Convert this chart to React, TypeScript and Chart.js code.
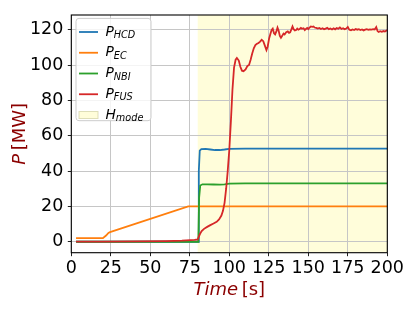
import React, { useEffect, useRef } from "react";
import { Chart, registerables } from "chart.js";

Chart.register(...registerables);

// ---- data ----
const xTicks = [0, 25, 50, 75, 100, 125, 150, 175, 200];
const yTicks = [0, 20, 40, 60, 80, 100, 120];
const xRange = [0, 200];
const yRange = [-6.2, 128.3];
const hmodeStart = 80;
const hmodeEnd = 200;

const hcdTime = [3, 80.2, 80.7, 81.3, 82.3, 85, 88, 91, 94, 97, 100, 110, 200];
const hcdPower = [0, 0, 40, 51.5, 52.4, 52.5, 52.2, 51.9, 51.9, 52.2, 52.6, 52.7, 52.7];

const ecTime = [3, 20, 22, 23.5, 24.5, 74, 200];
const ecPower = [2, 2, 3.5, 5, 5.4, 20, 20];

const nbiTime = [3, 80.4, 80.9, 81.6, 83, 86, 90, 94, 97, 100, 110, 200];
const nbiPower = [0, 0, 25, 31.8, 32.5, 32.5, 32.4, 32.3, 32.5, 32.9, 33, 33];

const fusTime = [
  3, 20, 40, 60, 70, 78, 80, 80.5, 81.5, 82.5, 84, 86, 88, 90, 92, 93.5, 95, 96, 97, 98, 99, 100,
  101, 102, 103, 104, 104.8, 106, 107, 108, 109, 110.3, 111.5, 112.5, 113.5, 114.5, 115.5, 116.5,
  117.5, 118.5, 119.5, 120.5, 121.5, 122.5, 123.5, 124.3, 125.2, 126, 126.8, 127.5, 128.3, 129,
  129.8, 130.5, 131.2, 132, 132.7, 133.5, 134.3, 135, 136, 137, 137.8, 138.5, 139.3, 140, 140.7,
  141.5, 142.3, 143, 143.7, 144.5, 145.3, 146, 147, 147.8, 148.5, 149.3, 150, 150.8, 151.6, 152.5,
  153.3, 154, 155, 156, 157, 158, 159, 160, 161, 162, 163, 164, 165, 166, 167, 168, 169, 170, 171,
  172, 173, 174, 175, 176, 177, 178, 179, 180, 181, 182, 183, 184, 185, 186, 187, 188, 189, 190,
  191, 192, 193, 193.8, 194.5, 195.5, 196.5, 197.5, 198.5, 199.5, 200,
];
const fusPower = [
  0.1, 0.1, 0.2, 0.4, 0.6, 1.0, 1.3, 2.5, 4.5, 6.0, 7.3, 8.4, 9.4, 10.3, 11.3, 12.6, 14.8, 17.5, 22,
  30, 40, 52, 68, 86, 98.5, 103, 104, 102.5, 99, 96.8, 96.5, 97.5, 99.5, 100, 103, 106.5, 109.5,
  111.3, 112, 112.5, 113.2, 114.3, 113.5, 111, 108.5, 110.5, 115, 117.5, 119.8, 120.6, 118, 117.3,
  119, 121.2, 119.5, 116.5, 115.4, 116.5, 117.8, 117.3, 118.6, 119, 118.2, 118.5, 120.2, 121.8,
  120.3, 119.6, 119.8, 120.6, 120, 120.4, 121, 120.5, 120.8, 119.8, 120.4, 121, 120.3, 121.2, 121.8,
  121.6, 121.8, 121.2, 121, 120.6, 121, 120.4, 120.8, 120.2, 120.6, 121, 120.3, 120.7, 120.1, 120.8,
  120.2, 120.9, 120.5, 121.3, 120.4, 120.8, 120.2, 120.6, 121.5, 119.9, 119.6, 120.1, 119.8, 120.4,
  120, 120.3, 119.8, 120.1, 119.6, 120, 120.3, 119.9, 120.2, 120, 120.3, 120.1, 121.5, 119.2, 118.7,
  119.1, 118.8, 119.2, 118.9, 119.5, 119.7,
];

const seriesSubs = ["HCD", "EC", "NBI", "FUS"];
const hmodeSub = "mode";
const colors = ["#1f77b4", "#ff7f0e", "#2ca02c", "#d62728"];
const HMODE_FILL = "rgb(255,253,218)";
const TITLE_COLOR = "#8b0000";
const FONT = "'DejaVu Sans', sans-serif";

const toPoints = (t: number[], v: number[]) => t.map((x, i) => ({ x, y: v[i] }));

const decorPlugin = {
  id: "decor",
  beforeDraw(chart: any) {
    const { ctx, chartArea: a, scales } = chart;
    const x0 = scales.x.getPixelForValue(hmodeStart);
    const x1 = scales.x.getPixelForValue(hmodeEnd);
    ctx.save();
    ctx.fillStyle = HMODE_FILL;
    ctx.fillRect(x0, a.top, x1 - x0, a.bottom - a.top);
    ctx.restore();
  },
  afterDraw(chart: any) {
    const { ctx, chartArea: a } = chart;
    ctx.save();
    // frame
    ctx.strokeStyle = "#000";
    ctx.lineWidth = 1.1;
    ctx.strokeRect(a.left, a.top, a.right - a.left, a.bottom - a.top);

    // axis titles
    const drawMixed = (parts: { t: string; f: string }[], cx: number, by: number, gap: number) => {
      let total = 0;
      const ws = parts.map((p) => {
        ctx.font = p.f;
        const w = ctx.measureText(p.t).width;
        total += w;
        return w;
      });
      total += gap * (parts.length - 1);
      let x = cx - total / 2;
      parts.forEach((p, i) => {
        ctx.font = p.f;
        ctx.fillText(p.t, x, by);
        x += ws[i] + gap;
      });
    };
    ctx.fillStyle = TITLE_COLOR;
    ctx.textBaseline = "alphabetic";
    ctx.textAlign = "left";
    drawMixed(
      [
        { t: "Time", f: `italic 18px ${FONT}` },
        { t: "[s]", f: `18px ${FONT}` },
      ],
      (a.left + a.right) / 2,
      295,
      3.5
    );
    ctx.save();
    ctx.translate(25, (a.top + a.bottom) / 2);
    ctx.rotate(-Math.PI / 2);
    drawMixed(
      [
        { t: "P", f: `italic 18px ${FONT}` },
        { t: "[MW]", f: `18px ${FONT}` },
      ],
      0,
      0,
      3.5
    );
    ctx.restore();

    // legend
    const lx = a.left + 4.7;
    const ly = a.top + 3.4;
    const lw = 75;
    const lh = 102.3;
    ctx.beginPath();
    ctx.roundRect(lx, ly, lw, lh, 3);
    ctx.fillStyle = "rgba(255,255,255,0.8)";
    ctx.fill();
    ctx.strokeStyle = "#cccccc";
    ctx.lineWidth = 1;
    ctx.stroke();
    const rowY = (i: number) => ly + 13.6 + i * 20.75;
    const tx = lx + 29.5;
    const drawLabel = (main: string, sub: string, y: number) => {
      ctx.fillStyle = "#000";
      ctx.font = `italic 13.8px ${FONT}`;
      ctx.fillText(main, tx, y + 3.6);
      const w = ctx.measureText(main).width;
      ctx.font = `italic 9.7px ${FONT}`;
      ctx.fillText(sub, tx + w, y + 6);
    };
    seriesSubs.forEach((s, i) => {
      const y = rowY(i);
      ctx.strokeStyle = colors[i];
      ctx.lineWidth = 1.8;
      ctx.beginPath();
      ctx.moveTo(lx + 3, y);
      ctx.lineTo(lx + 22, y);
      ctx.stroke();
      drawLabel("P", s, y);
    });
    const hy = rowY(4);
    ctx.fillStyle = HMODE_FILL;
    ctx.fillRect(lx + 3, hy - 3.5, 19, 7);
    ctx.strokeStyle = "rgba(200,200,150,0.6)";
    ctx.lineWidth = 1;
    ctx.strokeRect(lx + 3, hy - 3.5, 19, 7);
    drawLabel("H", hmodeSub, hy);
    ctx.restore();
  },
};

export default function App() {
  const ref = useRef<HTMLCanvasElement | null>(null);
  useEffect(() => {
    document.body.style.margin = "0";
    const canvas = ref.current!;
    const datasets = [
      [hcdTime, hcdPower],
      [ecTime, ecPower],
      [nbiTime, nbiPower],
      [fusTime, fusPower],
    ].map(([t, v], i) => ({
      label: "P_" + seriesSubs[i],
      data: toPoints(t, v),
      borderColor: colors[i],
      backgroundColor: colors[i],
      borderWidth: 1.8,
      pointRadius: 0,
      tension: 0,
      fill: false,
      order: 4 - i,
    }));
    const tickFont = { family: FONT, size: 17.5 };
    const chart = new Chart(canvas, {
      type: "line",
      data: { datasets },
      plugins: [decorPlugin],
      options: {
        animation: false,
        responsive: false,
        devicePixelRatio: 1,
        layout: { padding: { top: 9.3, right: 27.7, left: 0, bottom: 0 } },
        plugins: { legend: { display: false }, tooltip: { enabled: false } },
        scales: {
          x: {
            type: "linear",
            min: xRange[0],
            max: xRange[1],
            afterBuildTicks: (s: any) => {
              s.ticks = xTicks.map((value) => ({ value }));
            },
            afterFit: (s: any) => {
              s.height = 58.3;
            },
            grid: { color: "#c6c6c6", lineWidth: 1, tickLength: 3.5, tickColor: "#222", tickWidth: 1 },
            border: { display: false },
            ticks: { font: tickFont, color: "#000", padding: 2, maxRotation: 0, autoSkip: false },
          },
          y: {
            type: "linear",
            min: yRange[0],
            max: yRange[1],
            afterBuildTicks: (s: any) => {
              s.ticks = yTicks.map((value) => ({ value }));
            },
            afterFit: (s: any) => {
              s.width = 71.3;
            },
            grid: { color: "#c6c6c6", lineWidth: 1, tickLength: 3.5, tickColor: "#222", tickWidth: 1 },
            border: { display: false },
            ticks: { font: tickFont, color: "#000", padding: 4.5, autoSkip: false },
          },
        },
      } as any,
    });
    return () => chart.destroy();
  }, []);
  return (
    <div style={{ width: 415, height: 311, position: "relative" }}>
      <canvas ref={ref} width={415} height={311} style={{ display: "block" }} />
    </div>
  );
}
